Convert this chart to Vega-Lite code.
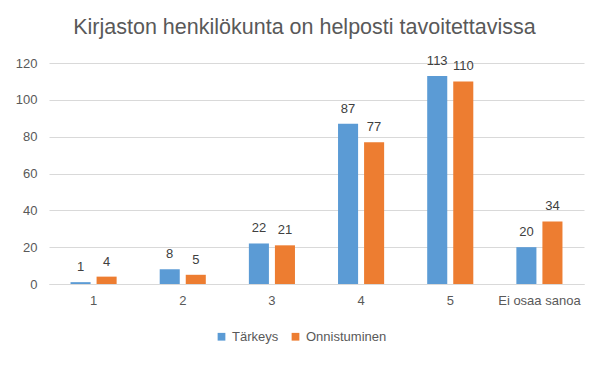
{
  "$schema": "https://vega.github.io/schema/vega-lite/v6.json",
  "width": 535,
  "height": 221,
  "autosize": {"type": "none"},
  "padding": {"left": 49, "top": 63, "right": 25, "bottom": 81},
  "background": "white",
  "title": {
    "text": "Kirjaston henkilökunta on helposti tavoitettavissa",
    "font": "Liberation Sans",
    "fontSize": 21.5,
    "fontWeight": "normal",
    "color": "#595959",
    "anchor": "middle",
    "dx": -12,
    "offset": 16
  },
  "data": {
    "values": [
      {"cat": "1", "series": "Tärkeys", "value": 1},
      {"cat": "1", "series": "Onnistuminen", "value": 4},
      {"cat": "2", "series": "Tärkeys", "value": 8},
      {"cat": "2", "series": "Onnistuminen", "value": 5},
      {"cat": "3", "series": "Tärkeys", "value": 22},
      {"cat": "3", "series": "Onnistuminen", "value": 21},
      {"cat": "4", "series": "Tärkeys", "value": 87},
      {"cat": "4", "series": "Onnistuminen", "value": 77},
      {"cat": "5", "series": "Tärkeys", "value": 113},
      {"cat": "5", "series": "Onnistuminen", "value": 110},
      {"cat": "Ei osaa sanoa", "series": "Tärkeys", "value": 20},
      {"cat": "Ei osaa sanoa", "series": "Onnistuminen", "value": 34}
    ]
  },
  "encoding": {
    "x": {
      "field": "cat",
      "type": "nominal",
      "sort": null,
      "scale": {"paddingInner": 0.483, "paddingOuter": 0.2415},
      "axis": {
        "title": null,
        "labelAngle": 0,
        "ticks": false,
        "domainColor": "#D9D9D9",
        "labelFont": "Liberation Sans",
        "labelFontSize": 13,
        "labelColor": "#595959",
        "labelPadding": 10
      }
    },
    "xOffset": {
      "field": "series",
      "type": "nominal",
      "sort": ["Tärkeys", "Onnistuminen"],
      "scale": {"paddingInner": 0.23, "paddingOuter": 0}
    },
    "y": {
      "field": "value",
      "type": "quantitative",
      "scale": {"domain": [0, 120]},
      "axis": {
        "title": null,
        "values": [0, 20, 40, 60, 80, 100, 120],
        "ticks": false,
        "domain": false,
        "gridColor": "#D9D9D9",
        "labelFont": "Liberation Sans",
        "labelFontSize": 13,
        "labelColor": "#595959",
        "labelPadding": 12
      }
    }
  },
  "layer": [
    {
      "mark": {"type": "bar"},
      "encoding": {
        "color": {
          "field": "series",
          "type": "nominal",
          "sort": ["Tärkeys", "Onnistuminen"],
          "scale": {"domain": ["Tärkeys", "Onnistuminen"], "range": ["#5B9BD5", "#ED7D31"]},
          "legend": {
            "title": null,
            "orient": "none",
            "direction": "horizontal",
            "legendX": 166,
            "legendY": 267,
            "symbolType": "square",
            "symbolSize": 60,
            "symbolStrokeWidth": 0,
            "labelFont": "Liberation Sans",
            "labelFontSize": 13,
            "labelColor": "#595959",
            "columnPadding": 10,
            "labelOffset": 4
          }
        }
      }
    },
    {
      "mark": {
        "type": "text",
        "baseline": "alphabetic",
        "dy": -11,
        "font": "Liberation Sans",
        "fontSize": 13,
        "color": "#404040"
      },
      "encoding": {
        "text": {"field": "value", "type": "quantitative"}
      }
    }
  ],
  "config": {
    "view": {"stroke": null}
  }
}
